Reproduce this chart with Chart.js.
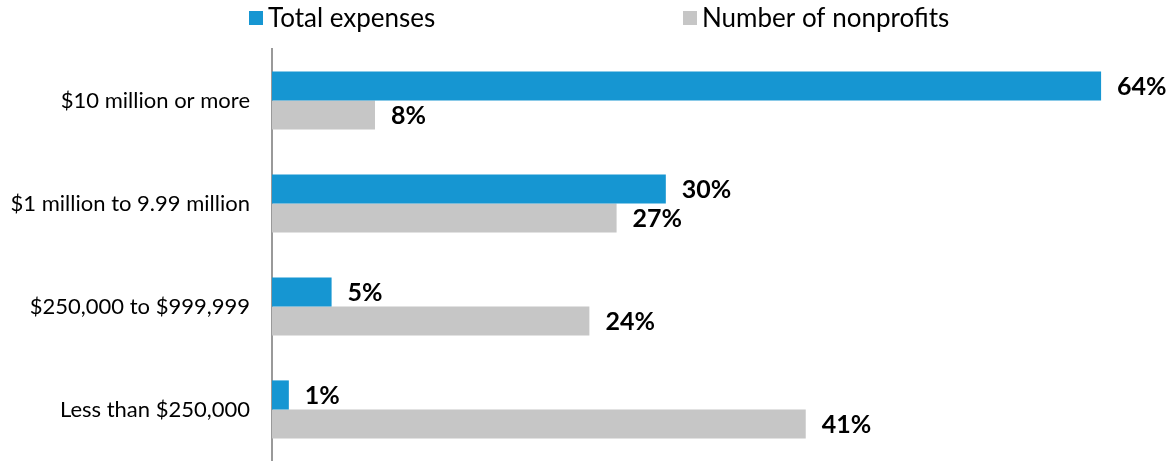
<!DOCTYPE html>
<html><head><meta charset="utf-8">
<script src="https://cdn.jsdelivr.net/npm/chart.js@4.4.0/dist/chart.umd.min.js"></script>
<style>html,body{margin:0;padding:0;background:#fff}#wrap{width:1172px;height:461px}</style>
</head><body><div id="wrap"><canvas id="c" width="1172" height="461"></canvas></div>
<script>
const categories = ["$10 million or more", "$1 million to 9.99 million", "$250,000 to $999,999", "Less than $250,000"];
const seriesNames = ["Total expenses", "Number of nonprofits"];
const totalExpenses = [64, 30.4, 4.6, 1.3];
const numberOfNonprofits = [7.95, 26.6, 24.5, 41.2];
const totalExpensesLabels = ["64%", "30%", "5%", "1%"];
const numberOfNonprofitsLabels = ["8%", "27%", "24%", "41%"];
const colors = ["#1696d2", "#c6c6c6"];

const valueLabels = {
  id: 'valueLabels',
  afterDatasetsDraw(chart) {
    const ctx = chart.ctx;
    ctx.save();
    ctx.font = 'bold 25px Lato';
    ctx.fillStyle = '#000';
    ctx.textBaseline = 'middle';
    ctx.textAlign = 'left';
    chart.data.datasets.forEach((ds, i) => {
      const meta = chart.getDatasetMeta(i);
      meta.data.forEach((bar, j) => {
        ctx.fillText(ds.valueLabels[j], bar.x + 16, bar.y + 1);
      });
    });
    ctx.restore();
  }
};
const customLegend = {
  id: 'customLegend',
  afterDraw(chart) {
    const ctx = chart.ctx;
    ctx.save();
    ctx.font = '26px Lato';
    ctx.textBaseline = 'middle';
    ctx.textAlign = 'left';
    const xs = [249, 683];
    chart.data.datasets.forEach((ds, i) => {
      ctx.fillStyle = ds.backgroundColor;
      ctx.fillRect(xs[i], 11, 14, 14);
      ctx.fillStyle = '#000';
      ctx.fillText(ds.label, xs[i] + 19, 19);
    });
    ctx.restore();
  }
};

new Chart(document.getElementById('c'), {
  type: 'bar',
  data: {
    labels: categories,
    datasets: [
      { label: seriesNames[0], data: totalExpenses, valueLabels: totalExpensesLabels, backgroundColor: colors[0], barPercentage: 1, categoryPercentage: 0.565 },
      { label: seriesNames[1], data: numberOfNonprofits, valueLabels: numberOfNonprofitsLabels, backgroundColor: colors[1], barPercentage: 1, categoryPercentage: 0.565 }
    ]
  },
  options: {
    indexAxis: 'y',
    responsive: false,
    animation: false,
    devicePixelRatio: 1,
    layout: { padding: { top: 49, right: 45, bottom: 0, left: 0 } },
    plugins: { legend: { display: false }, tooltip: { enabled: false } },
    scales: {
      x: {
        min: 0, max: 66,
        display: false
      },
      y: {
        afterFit(s) { s.width = 272; s.paddingTop = 0; s.paddingBottom = 0; },
        grid: { display: false, drawTicks: false },
        border: { display: true, color: '#999', width: 2 },
        ticks: { color: '#000', font: { family: 'Lato', size: 22 }, padding: 22 }
      }
    }
  },
  plugins: [valueLabels, customLegend]
});
</script></body></html>
